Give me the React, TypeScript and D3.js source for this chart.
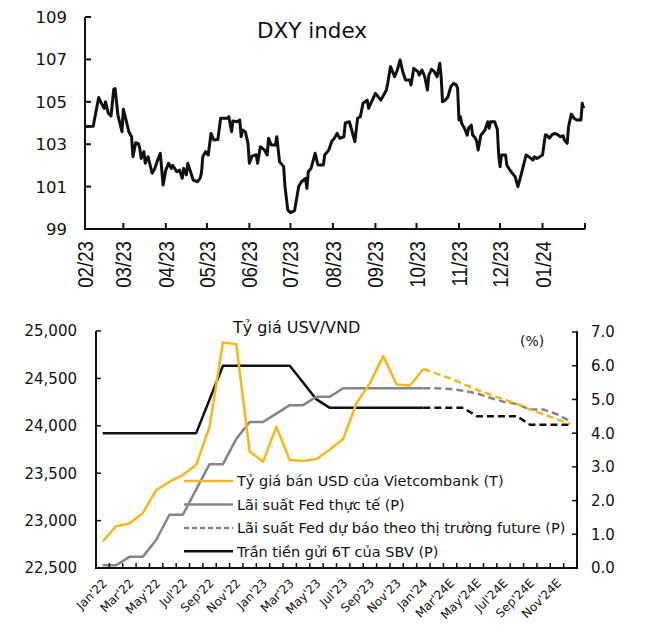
import React from 'react';
import * as d3 from 'd3';

// ---------- DXY index (top chart) ----------
const DXY_START = '2023-02-01';
// days since 1 Feb 2023
const DXY_DAY = [
  0, 6, 8, 10, 12, 14, 15, 17, 19, 21,
  22, 24, 27, 28, 30, 32, 34, 35, 37, 39,
  40, 41, 43, 44, 46, 49, 51, 53, 55, 57,
  59, 61, 63, 64, 67, 69, 71, 72, 74, 75,
  79, 82, 84, 85, 86, 88, 90, 92, 94, 97,
  99, 104, 105, 107, 108, 111, 113, 114, 115, 117,
  119, 120, 122, 125, 126, 128, 131, 133, 134, 136,
  139, 140, 142, 145, 146, 148, 150, 153, 156, 158,
  161, 162, 163, 165, 168, 170, 174, 175, 178, 180,
  182, 184, 186, 189, 190, 193, 197, 199, 201, 203,
  206, 207, 212, 214, 216, 220, 221, 223, 225, 226,
  228, 230, 232, 234, 237, 238, 240, 243, 244, 246,
  248, 250, 251, 253, 255, 257, 259, 260, 261, 263,
  265, 267, 269, 271, 272, 273, 274, 275, 277, 279,
  280, 282, 283, 285, 286, 287, 289, 290, 292, 294,
  295, 296, 299, 301, 302, 303, 304, 307, 308, 311,
  314, 316, 318, 322, 324, 327, 328, 330, 332, 334,
  336, 337, 339, 341, 343, 345, 347, 349, 350, 352,
  353, 355, 357, 359, 362, 363, 364,
];
const DXY_VALUE = [
  103.83, 103.85, 104.53, 105.2, 104.93, 104.69, 105.0, 104.46, 104.33, 105.6,
  105.62, 104.38, 103.59, 104.65, 104.14, 103.59, 103.35, 102.41, 103.07, 103.03,
  102.8, 102.33, 102.65, 102.1, 102.41, 101.63, 101.86, 102.25, 102.57, 101.07,
  101.78, 102.1, 101.86, 102.0, 101.7, 101.78, 101.39, 101.86, 101.55, 102.1,
  101.31, 101.23, 101.39, 101.63, 102.41, 102.65, 102.49, 103.51, 103.2, 103.22,
  104.22, 104.22, 104.3, 103.59, 104.09, 104.06, 104.14, 103.35, 103.67, 103.59,
  103.04, 102.1, 102.44, 102.5, 102.1, 102.88, 102.73, 102.49, 103.28, 102.96,
  102.96, 103.35, 102.18, 101.94, 101.0, 99.9, 99.77, 99.87, 101.0, 101.23,
  101.39, 100.92, 101.7, 101.86, 102.57, 102.02, 102.02, 102.49, 102.73, 103.12,
  103.28, 103.51, 103.28, 103.35, 104.0, 104.06, 103.12, 104.22, 104.3, 104.93,
  105.08, 104.69, 105.4, 105.24, 105.08, 105.56, 105.87, 106.66, 106.34, 106.18,
  106.5, 106.97, 106.42, 106.03, 106.03, 105.79, 106.58, 106.42, 106.26, 106.5,
  106.18, 105.56, 106.26, 106.53, 106.42, 106.18, 106.82, 106.18, 105.0, 105.08,
  105.24, 105.71, 105.87, 105.8, 105.64, 104.14, 104.3, 103.98, 103.75, 103.43,
  103.75, 103.9, 103.43, 103.28, 103.12, 102.73, 103.43, 103.5, 103.67, 104.06,
  103.75, 104.06, 104.06, 103.7, 102.49, 101.94, 102.49, 102.49, 102.0, 101.7,
  101.47, 101.0, 101.47, 102.49, 102.41, 102.25, 102.4, 102.33, 102.41, 102.49,
  103.43, 103.43, 103.28, 103.45, 103.51, 103.45, 103.35, 103.4, 103.2, 103.04,
  103.83, 104.42, 104.22, 104.14, 104.14, 104.93, 104.69,
];
const DXY_Y_TICKS = [99, 101, 103, 105, 107, 109];

// ---------- USD/VND chart (bottom) ----------
const MONTHS = [
  "Jan'22", "Feb'22", "Mar'22", "Apr'22", "May'22", "Jun'22", "Jul'22", "Aug'22", "Sep'22", "Oct'22", "Nov'22", "Dec'22",
  "Jan'23", "Feb'23", "Mar'23", "Apr'23", "May'23", "Jun'23", "Jul'23", "Aug'23", "Sep'23", "Oct'23", "Nov'23", "Dec'23",
  "Jan'24", "Feb'24E", "Mar'24E", "Apr'24E", "May'24E", "Jun'24E", "Jul'24E", "Aug'24E", "Sep'24E", "Oct'24E", "Nov'24E", "Dec'24E",
];
// Jan'22 .. Jan'24
const VCB_ACTUAL = [
  22780, 22940, 22970, 23080, 23320, 23410, 23480, 23590, 23990, 24880, 24860, 23730,
  23620, 23990, 23640, 23630, 23650, 23750, 23860, 24240, 24450, 24735, 24435, 24425,
  24600,
];
// Jan'24 .. Dec'24E
const VCB_FORECAST = [24600, 24550, 24500, 24440, 24380, 24330, 24280, 24230, 24170, 24120, 24070, 24020];
const FED_ACTUAL = [
  0.08, 0.08, 0.33, 0.33, 0.83, 1.58, 1.58, 2.33, 3.08, 3.08, 3.83, 4.33,
  4.33, 4.58, 4.83, 4.83, 5.08, 5.08, 5.33, 5.33, 5.33, 5.33, 5.33, 5.33,
  5.33,
];
const FED_FORECAST = [5.33, 5.33, 5.31, 5.26, 5.18, 5.05, 4.93, 4.86, 4.7, 4.7, 4.56, 4.35];
const SBV_ACTUAL = [
  4.0, 4.0, 4.0, 4.0, 4.0, 4.0, 4.0, 4.0, 5.0, 6.0, 6.0, 6.0,
  6.0, 6.0, 6.0, 5.5, 5.0, 4.75, 4.75, 4.75, 4.75, 4.75, 4.75, 4.75,
  4.75,
];
const SBV_FORECAST = [4.75, 4.75, 4.75, 4.75, 4.5, 4.5, 4.5, 4.5, 4.25, 4.25, 4.25, 4.25];
const LEFT_TICKS = [22500, 23000, 23500, 24000, 24500, 25000];
const RIGHT_TICKS = [0, 1, 2, 3, 4, 5, 6, 7];
const LEGEND = [
  'Tỷ giá bán USD của Vietcombank (T)',
  'Lãi suất Fed thực tế (P)',
  'Lãi suất Fed dự báo theo thị trường future (P)',
  'Trần tiền gửi 6T của SBV (P)',
];

const FONT = 'DejaVu Sans, Verdana, sans-serif';
const GOLD = '#F6B71B';
const GRAY = '#858585';

function DxyChart() {
  const start = new Date(DXY_START + 'T00:00:00');
  const end = d3.timeYear.offset(start, 1);
  const x = d3.scaleTime().domain([start, end]).range([85, 585]);
  const y = d3.scaleLinear().domain([99, 109]).range([229, 17]);
  const data = DXY_DAY.map((d, i) => ({ date: d3.timeDay.offset(start, d), v: DXY_VALUE[i] }));
  const line = d3
    .line<{ date: Date; v: number }>()
    .x((d) => x(d.date))
    .y((d) => y(d.v));
  const months = d3.timeMonth.range(start, d3.timeDay.offset(end, 1));
  const fmt = d3.timeFormat('%m/%y');
  return (
    <g>
      <text x={257} y={38} fontFamily={FONT} fontSize={21.5} fill="#111">
        DXY index
      </text>
      <path d={line(data) || ''} fill="none" stroke="#111" strokeWidth={3} strokeLinejoin="round" />
      <line x1={85} x2={85} y1={y(109)} y2={y(99) + 1} stroke="#111" strokeWidth={2} />
      <line x1={84} x2={585} y1={229} y2={229} stroke="#111" strokeWidth={2} />
      {DXY_Y_TICKS.map((t) => (
        <g key={t}>
          <line x1={85} x2={91} y1={y(t)} y2={y(t)} stroke="#111" strokeWidth={2} />
          <text x={67} y={y(t)} dy="0.36em" textAnchor="end" fontFamily={FONT} fontSize={16.5} fill="#111">
            {t}
          </text>
        </g>
      ))}
      {months.map((m, i) => (
        <g key={i}>
          <line x1={x(m)} x2={x(m)} y1={229} y2={223} stroke="#111" strokeWidth={2} />
          {i < months.length - 1 && (
            <text
              transform={`translate(${x(m) + 8},241) rotate(-90) scale(0.85,1)`}
              textAnchor="end"
              fontFamily="Liberation Sans, Arial, sans-serif"
              fontSize={22}
              fill="#111"
            >
              {fmt(m)}
            </text>
          )}
        </g>
      ))}
    </g>
  );
}

function FxChart() {
  const x = d3.scaleBand<string>().domain(MONTHS).range([96, 577]).padding(0);
  const bw = x.bandwidth();
  const cx = (i: number) => (x(MONTHS[i]) as number) + bw / 2;
  const yL = d3.scaleLinear().domain([22500, 25000]).range([568, 331]);
  const yR = d3.scaleLinear().domain([0, 7]).range([568, 332]);
  const fStart = MONTHS.indexOf("Jan'24");
  const mk = (vals: number[], offset: number, sc: d3.ScaleLinear<number, number>) =>
    d3
      .line<number>()
      .x((_, i) => cx(i + offset))
      .y((v) => sc(v))(vals) || '';
  const boundaries = d3.range(MONTHS.length + 1).map((i) => 96 + i * bw);
  const legendY = [481, 504.5, 528, 551.3];
  const legendStyle = [
    { stroke: GOLD, dash: undefined },
    { stroke: GRAY, dash: undefined },
    { stroke: GRAY, dash: '5,3' },
    { stroke: '#111', dash: undefined },
  ];
  return (
    <g>
      <text x={233} y={333} fontFamily={FONT} fontSize={16} fill="#111">
        Tỷ giá USV/VND
      </text>
      <text x={520} y={346} fontFamily={FONT} fontSize={14} fill="#111">
        (%)
      </text>
      {/* data lines */}
      <path d={mk(SBV_ACTUAL, 0, yR)} fill="none" stroke="#111" strokeWidth={2.5} strokeLinejoin="round" />
      <path d={mk(SBV_FORECAST, fStart, yR)} fill="none" stroke="#111" strokeWidth={2.5} strokeDasharray="7,4" />
      <path d={mk(FED_ACTUAL, 0, yR)} fill="none" stroke={GRAY} strokeWidth={2.5} strokeLinejoin="round" />
      <path d={mk(FED_FORECAST, fStart, yR)} fill="none" stroke={GRAY} strokeWidth={2.5} strokeDasharray="7,4" />
      <path d={mk(VCB_ACTUAL, 0, yL)} fill="none" stroke={GOLD} strokeWidth={2.5} strokeLinejoin="round" />
      <path d={mk(VCB_FORECAST, fStart, yL)} fill="none" stroke={GOLD} strokeWidth={2.5} strokeDasharray="7,4" />
      {/* axes */}
      <line x1={96} x2={96} y1={331} y2={569} stroke="#111" strokeWidth={2} />
      <line x1={577} x2={577} y1={331} y2={569} stroke="#111" strokeWidth={2} />
      <line x1={95} x2={578} y1={568} y2={568} stroke="#111" strokeWidth={2} />
      {LEFT_TICKS.map((t) => (
        <g key={t}>
          <line x1={96} x2={101} y1={yL(t)} y2={yL(t)} stroke="#111" strokeWidth={1.5} />
          <text x={77} y={yL(t)} dy="0.36em" textAnchor="end" fontFamily={FONT} fontSize={15} fill="#111">
            {d3.format(',')(t)}
          </text>
        </g>
      ))}
      {RIGHT_TICKS.map((t) => (
        <g key={t}>
          <line x1={572} x2={577} y1={yR(t)} y2={yR(t)} stroke="#111" strokeWidth={1.5} />
          <text x={591} y={yR(t)} dy="0.36em" textAnchor="start" fontFamily={FONT} fontSize={15} fill="#111">
            {d3.format('.1f')(t)}
          </text>
        </g>
      ))}
      {boundaries.map((b, i) => (
        <line key={i} x1={b} x2={b} y1={568} y2={563} stroke="#111" strokeWidth={1.5} />
      ))}
      {MONTHS.map((m, i) =>
        i % 2 === 0 ? (
          <text
            key={m}
            transform={`translate(${cx(i) + 2},581) rotate(-45)`}
            textAnchor="end"
            dy="0.35em"
            fontFamily={FONT}
            fontSize={12}
            fill="#111"
          >
            {m}
          </text>
        ) : null
      )}
      {/* legend */}
      {LEGEND.map((label, i) => (
        <g key={label}>
          <line
            x1={184}
            x2={233}
            y1={legendY[i]}
            y2={legendY[i]}
            stroke={legendStyle[i].stroke}
            strokeWidth={2.5}
            strokeDasharray={legendStyle[i].dash}
          />
          <text x={237} y={legendY[i]} dy="0.36em" fontFamily={FONT} fontSize={14.5} fill="#111">
            {label}
          </text>
        </g>
      ))}
    </g>
  );
}

export default function App() {
  return (
    <svg
      width={657}
      height={642}
      viewBox="0 0 657 642"
      style={{ position: 'absolute', left: 0, top: 0, background: '#fff' }}
    >
      <rect width={657} height={642} fill="#fff" />
      <DxyChart />
      <FxChart />
    </svg>
  );
}
